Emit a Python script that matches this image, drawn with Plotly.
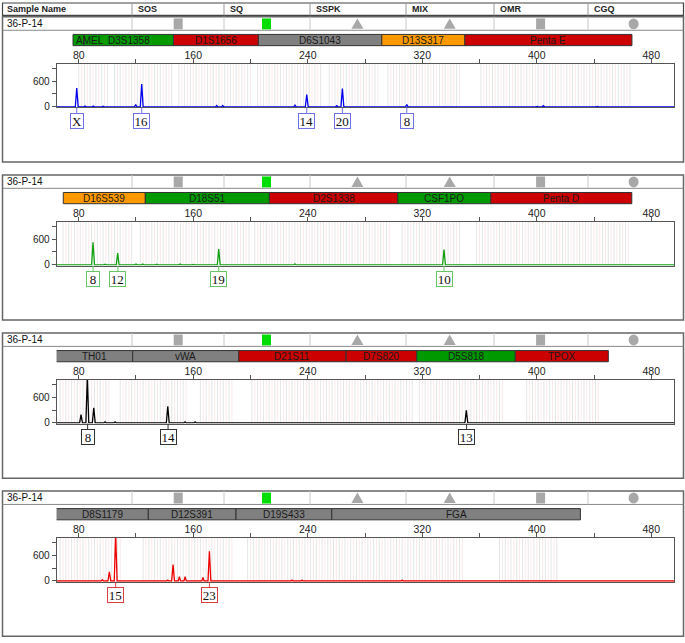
import plotly.graph_objects as go

W, H = 685, 643

# ---------------- data ----------------
X_RANGE = [64.6, 496.1]
Y_RANGE = [-15, 1000]
X_TICKS = [80, 120, 160, 200, 240, 280, 320, 360, 400, 440, 480]
X_TICK_TEXT = ["80", "", "160", "", "240", "", "320", "", "400", "", "480"]
Y_TICKS = [0, 300, 600, 900]
Y_TICK_TEXT = ["0", "", "600", ""]

HEADER_LABELS = ["Sample Name", "SOS", "SQ", "SSPK", "MIX", "OMR", "CGQ"]
SAMPLE_NAME = "36-P-14"
QUALITY_FLAGS = ["square", "square_pass", "triangle", "triangle", "square", "circle"]

# panel 1 (blue dye)
P1_LOCI = ["AMEL", "D3S1358", "D1S1656", "D6S1043", "D13S317", "Penta E"]
P1_LOCUS_START = [76.0, 83.6, 146.2, 205.5, 291.7, 349.8]
P1_LOCUS_END = [83.6, 146.2, 205.5, 291.7, 349.8, 466.5]
P1_LOCUS_COLOR = ["green", "green", "red", "gray", "orange", "red"]
P1_PEAK_SIZE = [78.6, 84.4, 90.2, 97.0, 119.8, 124.0, 142.4, 176.4, 180.6, 231.1, 239.3, 260.3, 264.2, 309.2, 400.4, 404.6, 442.3]
P1_PEAK_HEIGHT = [438, 20, 20, 15, 54, 531, 10, 30, 30, 38, 285, 25, 423, 54, 10, 25, 10]
P1_ALLELES = ["X", "16", "14", "20", "8"]
P1_ALLELE_SIZE = [78.6, 124.0, 239.3, 264.2, 309.2]
P1_BIN_RANGES = [[80, 100], [105, 145], [150, 200], [205, 250], [255, 290], [296, 346], [361, 465]]

# panel 2 (green dye)
P2_LOCI = ["D16S539", "D18S51", "D2S1338", "CSF1PO", "Penta D"]
P2_LOCUS_START = [69.2, 126.5, 213.2, 302.9, 367.9]
P2_LOCUS_END = [126.5, 213.2, 302.9, 367.9, 466.4]
P2_LOCUS_COLOR = ["orange", "green", "red", "green", "red"]
P2_PEAK_SIZE = [78.6, 90.0, 98.4, 107.2, 120.0, 124.7, 134.4, 150.8, 160.0, 177.8, 231.0, 335.2]
P2_PEAK_HEIGHT = [15, 523, 15, 277, 20, 20, 14, 20, 12, 369, 25, 354]
P2_ALLELES = ["8", "12", "19", "10"]
P2_ALLELE_SIZE = [90.0, 107.4, 177.8, 335.2]
P2_BIN_RANGES = [[69, 118], [123, 200], [203, 298], [306, 346], [358, 465]]

# panel 3 (black/yellow dye)
P3_LOCI = ["TH01", "vWA", "D21S11", "D7S820", "D5S818", "TPOX"]
P3_LOCUS_START = [64.1, 117.7, 191.8, 266.8, 316.2, 385.0]
P3_LOCUS_END = [117.7, 191.8, 266.8, 316.2, 385.0, 450.0]
P3_LOCUS_COLOR = ["gray", "gray", "red", "red", "green", "red"]
P3_PEAK_SIZE = [77.4, 81.6, 86.0, 90.5, 98.4, 105.4, 142.2, 154.3, 161.3, 350.8]
P3_PEAK_HEIGHT = [15, 192, 1080, 354, 25, 25, 385, 25, 25, 292]
P3_ALLELES = ["8", "14", "13"]
P3_ALLELE_SIZE = [86.2, 142.4, 351.0]
P3_BIN_RANGES = [[67, 102], [109, 156], [165, 187], [201, 313], [318, 376], [393, 444]]

# panel 4 (red dye)
P4_LOCI = ["D8S1179", "D12S391", "D19S433", "FGA"]
P4_LOCUS_START = [64.1, 128.6, 189.9, 256.8]
P4_LOCUS_END = [128.6, 189.9, 256.8, 430.5]
P4_LOCUS_COLOR = ["gray", "gray", "gray", "gray"]
P4_PEAK_SIZE = [73.0, 96.5, 101.4, 105.8, 142.2, 145.9, 150.3, 154.3, 166.8, 171.3, 229.0, 236.0, 306.0]
P4_PEAK_HEIGHT = [15, 30, 215, 1100, 20, 385, 100, 100, 85, 692, 20, 20, 20]
P4_ALLELES = ["15", "23"]
P4_ALLELE_SIZE = [105.8, 171.3]
P4_BIN_RANGES = [[67, 109], [125, 188], [198, 349], [374, 415]]

# ---------------- style ----------------
LOCUS_FILL = {"green": "#009900", "red": "#cc0000", "gray": "#808080", "orange": "#ff9900"}
TRACE_COLORS = ["#0000ee", "#11a011", "#000000", "#ee0000"]
BOX_COLORS = ["#7070e8", "#66c666", "#333333", "#d84040"]
FONT = "Liberation Sans, Arial, sans-serif"
SERIF = "Liberation Serif, Times New Roman, serif"

FRAME_L, FRAME_R = 2.5, 683.5
HEADER_TOP, HEADER_BOT = 3, 15.5
STEP = 159.3
ROW_TOP, ROW_BOT, FRAME_BOT = 17, 30.5, 163.3
BAR_TOP, BAR_BOT = 34.7, 46.0
PLOT_TOP, PLOT_H = 64.3, 44
PLOT_L, PLOT_R = 56.7, 674.3
DIVIDERS = [132, 224, 310, 406, 494, 588]
ICON_X = [178.2, 266.5, 357.4, 449.7, 540.6, 633.6]


def xp(px):
    return px / W


def yp(py):
    return 1 - py / H


panels = [
    (P1_LOCI, P1_LOCUS_START, P1_LOCUS_END, P1_LOCUS_COLOR, P1_PEAK_SIZE, P1_PEAK_HEIGHT, P1_ALLELES, P1_ALLELE_SIZE, P1_BIN_RANGES),
    (P2_LOCI, P2_LOCUS_START, P2_LOCUS_END, P2_LOCUS_COLOR, P2_PEAK_SIZE, P2_PEAK_HEIGHT, P2_ALLELES, P2_ALLELE_SIZE, P2_BIN_RANGES),
    (P3_LOCI, P3_LOCUS_START, P3_LOCUS_END, P3_LOCUS_COLOR, P3_PEAK_SIZE, P3_PEAK_HEIGHT, P3_ALLELES, P3_ALLELE_SIZE, P3_BIN_RANGES),
    (P4_LOCI, P4_LOCUS_START, P4_LOCUS_END, P4_LOCUS_COLOR, P4_PEAK_SIZE, P4_PEAK_HEIGHT, P4_ALLELES, P4_ALLELE_SIZE, P4_BIN_RANGES),
]

fig = go.Figure()
shapes = []
annotations = []
layout_axes = {}

px_per_unit = (PLOT_R - PLOT_L) / (X_RANGE[1] - X_RANGE[0])

# header row
shapes.append(dict(type="rect", xref="paper", yref="paper", x0=xp(FRAME_L), x1=xp(FRAME_R),
                   y0=yp(HEADER_BOT), y1=yp(HEADER_TOP), line=dict(color="#444", width=1.2)))
for d in DIVIDERS:
    shapes.append(dict(type="line", xref="paper", yref="paper", x0=xp(d), x1=xp(d),
                       y0=yp(HEADER_BOT), y1=yp(HEADER_TOP), line=dict(color="#999", width=1)))
for i, lab in enumerate(HEADER_LABELS):
    x0 = 5 if i == 0 else DIVIDERS[i - 1] + 4
    annotations.append(dict(xref="paper", yref="paper", x=xp(x0), y=yp((HEADER_TOP + HEADER_BOT) / 2),
                            text="<b>" + lab + "</b>", showarrow=False, xanchor="left", yanchor="middle",
                            font=dict(family=FONT, size=9, color="#222")))

for k, (loci, lst, lend, lcol, psize, pheight, alleles, asize, bins) in enumerate(panels):
    off = STEP * k
    xa = "x" if k == 0 else "x%d" % (k + 1)
    ya = "y" if k == 0 else "y%d" % (k + 1)
    top = PLOT_TOP + off
    bot = top + PLOT_H

    # frame + sample row
    shapes.append(dict(type="rect", xref="paper", yref="paper", x0=xp(FRAME_L), x1=xp(FRAME_R),
                       y0=yp(FRAME_BOT + off), y1=yp(ROW_TOP + off), line=dict(color="#666", width=1.5)))
    shapes.append(dict(type="line", xref="paper", yref="paper", x0=xp(FRAME_L), x1=xp(FRAME_R),
                       y0=yp(ROW_BOT + off), y1=yp(ROW_BOT + off), line=dict(color="#888", width=1)))
    for d in DIVIDERS:
        shapes.append(dict(type="line", xref="paper", yref="paper", x0=xp(d), x1=xp(d),
                           y0=yp(ROW_BOT + off), y1=yp(ROW_TOP + off), line=dict(color="#c8c8c8", width=1)))
    annotations.append(dict(xref="paper", yref="paper", x=xp(5), y=yp((ROW_TOP + ROW_BOT) / 2 + off),
                            text=SAMPLE_NAME, showarrow=False, xanchor="left", yanchor="middle",
                            font=dict(family=FONT, size=10, color="#111")))
    cy = (ROW_TOP + ROW_BOT) / 2 + off + 0.3
    for ix, flag in zip(ICON_X, QUALITY_FLAGS):
        if flag in ("square", "square_pass"):
            col = "#00dd00" if flag == "square_pass" else "#a8a8a8"
            shapes.append(dict(type="rect", xref="paper", yref="paper", x0=xp(ix - 4.5), x1=xp(ix + 4.5),
                               y0=yp(cy + 5.5), y1=yp(cy - 5.5), line=dict(width=0), fillcolor=col))
        elif flag == "triangle":
            path = "M %f %f L %f %f L %f %f Z" % (xp(ix - 6), yp(cy + 5), xp(ix + 6), yp(cy + 5), xp(ix), yp(cy - 5.5))
            shapes.append(dict(type="path", xref="paper", yref="paper", path=path,
                               line=dict(width=0), fillcolor="#a8a8a8"))
        else:
            shapes.append(dict(type="circle", xref="paper", yref="paper", x0=xp(ix - 5), x1=xp(ix + 5),
                               y0=yp(cy + 5.5), y1=yp(cy - 5.5), line=dict(width=0), fillcolor="#a8a8a8"))

    # locus (bin set) bar
    for name, a, b, c in zip(loci, lst, lend, lcol):
        shapes.append(dict(type="rect", xref=xa, yref="paper", x0=a, x1=b,
                           y0=yp(BAR_BOT + off), y1=yp(BAR_TOP + off),
                           line=dict(color="#333", width=1), fillcolor=LOCUS_FILL[c]))
        wpx = (b - a) * px_per_unit
        if wpx < 30:
            annotations.append(dict(xref=xa, yref="paper", x=a, xshift=1, y=yp((BAR_TOP + BAR_BOT) / 2 + off),
                                    text=name, showarrow=False, xanchor="left", yanchor="middle",
                                    font=dict(family=FONT, size=10, color="#1a1a1a")))
        else:
            annotations.append(dict(xref=xa, yref="paper", x=(a + b) / 2, y=yp((BAR_TOP + BAR_BOT) / 2 + off),
                                    text=name, showarrow=False, xanchor="center", yanchor="middle",
                                    font=dict(family=FONT, size=10, color="#1a1a1a")))

    # allele bin stripes
    gx, px_ = [], []
    for a, b in bins:
        v = a
        while v <= b:
            gx += [v, v, None]
            if v + 2 <= b:
                px_ += [v + 2, v + 2, None]
            v += 4
    gy = [Y_RANGE[0], Y_RANGE[1], None] * (len(gx) // 3)
    py_ = [Y_RANGE[0], Y_RANGE[1], None] * (len(px_) // 3)
    fig.add_trace(go.Scatter(x=gx, y=gy, mode="lines", line=dict(color="#e6e6e6", width=1),
                             hoverinfo="skip", showlegend=False, xaxis=xa, yaxis=ya))
    fig.add_trace(go.Scatter(x=px_, y=py_, mode="lines", line=dict(color="#fbeaea", width=1),
                             hoverinfo="skip", showlegend=False, xaxis=xa, yaxis=ya))

    # electropherogram signal
    pts = sorted(zip(psize, pheight))
    sx, sy = [X_RANGE[0]], [0]
    for s, h in pts:
        hw = 1.0 if h > 100 else 0.8
        sx += [s - hw, s, s + hw]
        sy += [0, h, 0]
    sx.append(X_RANGE[1])
    sy.append(0)
    fig.add_trace(go.Scatter(x=sx, y=sy, mode="lines", line=dict(color=TRACE_COLORS[k], width=1.3),
                             hoverinfo="skip", showlegend=False, xaxis=xa, yaxis=ya))

    # allele call labels
    for lab, s in zip(alleles, asize):
        shapes.append(dict(type="line", xref=xa, yref="paper", x0=s, x1=s,
                           y0=yp(bot), y1=yp(bot + 5.5), line=dict(color=BOX_COLORS[k], width=1)))
        annotations.append(dict(xref=xa, yref="paper", x=s, y=yp(bot + 5.5), text=lab, showarrow=False,
                                xanchor="center", yanchor="top", width=12 if len(lab) == 1 else 14.5, height=14,
                                borderpad=0, borderwidth=1, bordercolor=BOX_COLORS[k], bgcolor="white",
                                font=dict(family=SERIF, size=13, color="#111")))

    xkey = "xaxis" if k == 0 else "xaxis%d" % (k + 1)
    ykey = "yaxis" if k == 0 else "yaxis%d" % (k + 1)
    layout_axes[xkey] = dict(domain=[xp(PLOT_L), xp(PLOT_R)], range=X_RANGE, anchor=ya, side="top",
                             tickvals=X_TICKS, ticktext=X_TICK_TEXT, ticks="outside", ticklen=4,
                             ticklabelstandoff=-4,
                             tickcolor="#555", showline=True, linecolor="#555", linewidth=1, mirror=True,
                             showgrid=False, zeroline=False, fixedrange=True,
                             tickfont=dict(family=FONT, size=10.5, color="#222"))
    layout_axes[ykey] = dict(domain=[yp(bot), yp(top)], range=Y_RANGE, anchor=xa,
                             tickvals=Y_TICKS, ticktext=Y_TICK_TEXT, ticks="outside", ticklen=4,
                             tickcolor="#555", showline=True, linecolor="#555", linewidth=1, mirror=True,
                             showgrid=False, zeroline=False, fixedrange=True,
                             tickfont=dict(family=FONT, size=10, color="#222"))

fig.update_layout(width=W, height=H, autosize=False, margin=dict(l=0, r=0, t=0, b=0),
                  paper_bgcolor="white", plot_bgcolor="white", showlegend=False,
                  shapes=shapes, annotations=annotations, **layout_axes)

fig.write_html("out.html", config={"displayModeBar": False},
               post_script="document.body.style.margin='0';document.body.style.overflow='hidden';")
